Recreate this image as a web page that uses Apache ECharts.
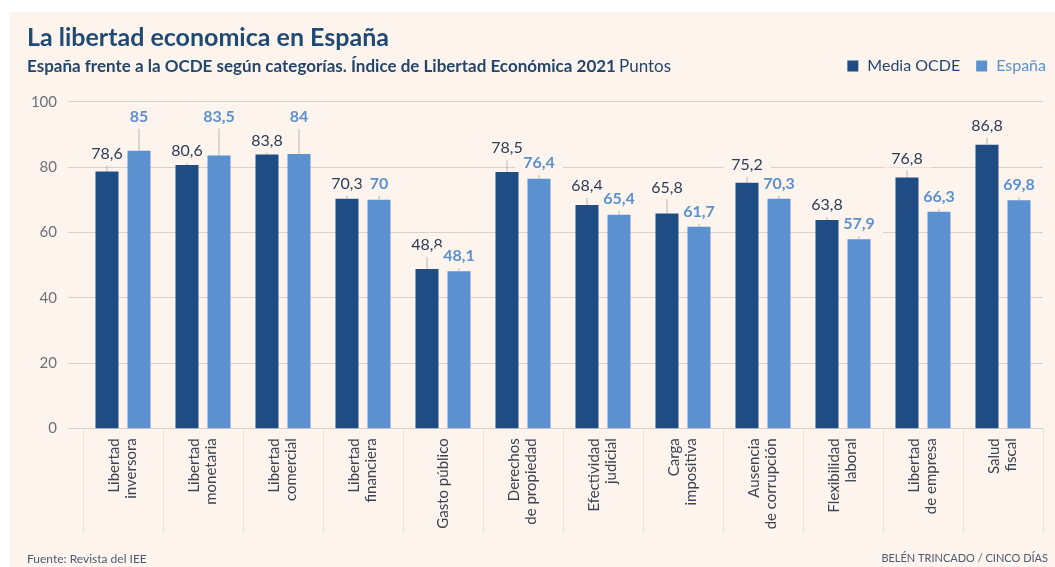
<!DOCTYPE html>
<html lang="es">
<head>
<meta charset="utf-8">
<title>La libertad economica en España</title>
<script src="https://cdn.jsdelivr.net/npm/echarts@6/dist/echarts.min.js"></script>
<style>
  html, body { margin: 0; padding: 0; background: #ffffff; }
  #panel { position: absolute; left: 10px; top: 12px; width: 1045px; height: 555px; background: #fdf4ed; }
  #chart { position: absolute; left: 0; top: 0; width: 1055px; height: 567px; }
</style>
</head>
<body>
<div id="panel"></div>
<div id="chart"></div>
<script>
// Categorías del Índice de Libertad Económica 2021
const categories = [
  'Libertad\ninversora', 'Libertad\nmonetaria', 'Libertad\ncomercial', 'Libertad\nfinanciera',
  'Gasto público', 'Derechos\nde propiedad', 'Efectividad\njudicial', 'Carga\nimpositiva',
  'Ausencia\nde corrupción', 'Flexibilidad\nlaboral', 'Libertad\nde empresa', 'Salud\nfiscal'
];
// Puntos por categoría
const mediaOcde = [78.6, 80.6, 83.8, 70.3, 48.8, 78.5, 68.4, 65.8, 75.2, 63.8, 76.8, 86.8];
const espana    = [85, 83.5, 84, 70, 48.1, 76.4, 65.4, 61.7, 70.3, 57.9, 66.3, 69.8];
// Eje vertical
const yTicks = [0, 20, 40, 60, 80, 100];

// Separación (px) entre la parte superior de cada barra y el centro de su etiqueta
const liftOcde   = [18, 14, 14, 15, 24, 24, 19, 26, 18, 15, 19, 19];
const liftEspana = [34, 39, 37, 16, 15, 16, 16, 15, 15, 15, 15, 15];

const C_DARK = '#1f4d83';
const C_LIGHT = '#5b91cf';
const C_BG = '#fdf4ed';
const FONT = 'Lato, "Open Sans", sans-serif';
const BAR_W = 23;
const BAR_GAP = 9;
const HALF_STEP = (BAR_W + BAR_GAP) / 2;

const fmt = v => String(v).replace('.', ',');

// Etiqueta con línea guía encima de cada barra
function labelRenderer(values, lifts, offset, color, weight) {
  return function (params, api) {
    const i = api.value(0);
    const v = api.value(1);
    const p = api.coord([i, v]);
    const x = p[0] + offset;
    const top = p[1];
    const d = lifts[params.dataIndex];
    return {
      type: 'group',
      children: [
        {
          type: 'line',
          shape: { x1: x, y1: top, x2: x, y2: top - d + 12 },
          style: { stroke: '#bdb5af', lineWidth: 1 }
        },
        {
          type: 'text',
          x: x,
          y: top - d,
          style: {
            text: fmt(values[params.dataIndex]),
            fill: color,
            fontSize: 16,
            fontFamily: FONT,
            fontWeight: weight,
            align: 'center',
            verticalAlign: 'middle',
            backgroundColor: C_BG,
            padding: [1, 8]
          }
        }
      ]
    };
  };
}

const chart = echarts.init(document.getElementById('chart'), null, { renderer: 'canvas' });

chart.setOption({
  backgroundColor: 'transparent',
  animation: false,
  textStyle: { fontFamily: FONT },
  title: {
    left: 22,
    top: 20,
    text: 'La libertad economica en España',
    textStyle: { fontFamily: FONT, fontSize: 25, fontWeight: 'bold', color: '#1f4a74' },
    subtext: '{b|España frente a la OCDE según categorías. Índice de Libertad Económica 2021} {r|Puntos}',
    itemGap: 8,
    subtextStyle: {
      rich: {
        b: { fontFamily: FONT, fontSize: 17, fontWeight: 'bold', color: '#24466c' },
        r: { fontFamily: FONT, fontSize: 17, fontWeight: 'normal', color: '#24466c' }
      }
    }
  },
  legend: {
    right: 4,
    top: 53,
    icon: 'rect',
    itemWidth: 11,
    itemHeight: 11,
    itemGap: 16,
    textStyle: { fontFamily: FONT, fontSize: 16, padding: [0, 0, 0, 4] },
    data: [
      { name: 'Media OCDE', textStyle: { color: '#24466c' } },
      { name: 'España', textStyle: { color: C_LIGHT } }
    ]
  },
  grid: [
    { left: 68, right: 12, top: 101.7, bottom: 138.7 },
    { left: 83, right: 12, top: 101.7, bottom: 138.7 }
  ],
  xAxis: [
    { gridIndex: 0, type: 'value', min: 0, max: 1, show: false },
    {
      gridIndex: 1,
      type: 'category',
      data: categories,
      axisLine: { show: false },
      axisTick: { show: true, length: 105, lineStyle: { color: '#ebe2db', width: 1 } },
      axisLabel: {
        interval: 0,
        rotate: 90,
        margin: 10,
        fontFamily: FONT,
        fontSize: 15,
        lineHeight: 17,
        color: '#3c4352'
      }
    }
  ],
  yAxis: [
    {
      gridIndex: 0,
      type: 'value',
      min: yTicks[0],
      max: yTicks[yTicks.length - 1],
      interval: yTicks[1] - yTicks[0],
      axisLine: { show: false },
      axisTick: { show: false },
      splitLine: { lineStyle: { color: '#d8d0cb', width: 1.2 } },
      axisLabel: { margin: 11, fontFamily: FONT, fontSize: 15, color: '#6d717c' }
    },
    {
      gridIndex: 1,
      type: 'value',
      min: yTicks[0],
      max: yTicks[yTicks.length - 1],
      show: false,
      splitLine: { show: false }
    }
  ],
  series: [
    {
      name: 'Media OCDE',
      type: 'bar',
      xAxisIndex: 1,
      yAxisIndex: 1,
      data: mediaOcde,
      barWidth: BAR_W,
      barGap: (BAR_GAP / BAR_W * 100) + '%',
      itemStyle: { color: C_DARK },
      z: 3
    },
    {
      name: 'España',
      type: 'bar',
      xAxisIndex: 1,
      yAxisIndex: 1,
      data: espana,
      barWidth: BAR_W,
      itemStyle: { color: C_LIGHT },
      z: 3
    },
    {
      name: 'etiquetas OCDE',
      type: 'custom',
      xAxisIndex: 1,
      yAxisIndex: 1,
      z: 2,
      silent: true,
      data: mediaOcde.map((v, i) => [i, v]),
      renderItem: labelRenderer(mediaOcde, liftOcde, -HALF_STEP, '#2c3d57', 'normal')
    },
    {
      name: 'etiquetas España',
      type: 'custom',
      xAxisIndex: 1,
      yAxisIndex: 1,
      z: 2,
      silent: true,
      data: espana.map((v, i) => [i, v]),
      renderItem: labelRenderer(espana, liftEspana, HALF_STEP, C_LIGHT, 'bold')
    }
  ],
  graphic: [
    {
      type: 'text',
      left: 27,
      top: 553,
      style: { text: 'Fuente: Revista del IEE', fill: '#4d5a6e', fontFamily: FONT, fontSize: 12 }
    },
    {
      type: 'text',
      right: 7,
      top: 553,
      style: { text: 'BELÉN TRINCADO / CINCO DÍAS', fill: '#4d5a6e', fontFamily: FONT, fontSize: 11 }
    }
  ]
});
</script>
</body>
</html>
